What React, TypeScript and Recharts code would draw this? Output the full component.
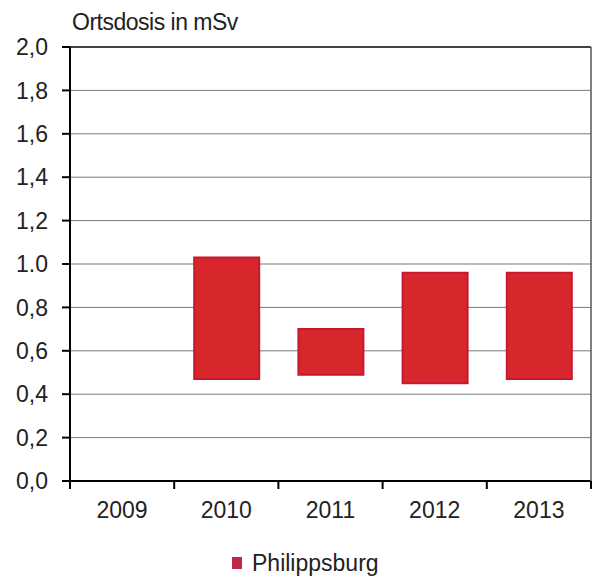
import React from 'react';
import {
  BarChart,
  Bar,
  XAxis,
  YAxis,
  CartesianGrid,
  Legend,
  ReferenceLine,
} from 'recharts';

const years = ['2009', '2010', '2011', '2012', '2013'];
const lowValues: (number | null)[] = [null, 0.47, 0.49, 0.45, 0.47];
const highValues: (number | null)[] = [null, 1.03, 0.7, 0.96, 0.96];
const yTicks = [0, 0.2, 0.4, 0.6, 0.8, 1.0, 1.2, 1.4, 1.6, 1.8, 2.0];
const yTickLabels = ['0,0', '0,2', '0,4', '0,6', '0,8', '1.0', '1,2', '1,4', '1,6', '1,8', '2,0'];

const data = years.map((year, i) => ({
  year,
  range: lowValues[i] == null ? null : [lowValues[i], highValues[i]],
}));

const FONT = '"Liberation Sans", Arial, sans-serif';
const TICK_SIZE = 8;
const TICK_MARGIN = 13;

function YearTick(props: any) {
  const { x, y, payload, index } = props;
  const half = payload?.offset ?? 52;
  const axisY = y - TICK_SIZE - TICK_MARGIN;
  const last = index === years.length - 1;
  return (
    <g>
      <line x1={x - half} y1={axisY} x2={x - half} y2={axisY + TICK_SIZE} stroke="#000" strokeWidth={2} />
      {last && (
        <line x1={x + half} y1={axisY} x2={x + half} y2={axisY + TICK_SIZE} stroke="#000" strokeWidth={2} />
      )}
      <text x={x} y={y} dy="0.71em" textAnchor="middle" fill="#222" fontSize={23} fontFamily={FONT}>
        {payload.value}
      </text>
    </g>
  );
}

function LegendContent() {
  return (
    <div style={{ display: 'flex', alignItems: 'center', marginLeft: 232, fontFamily: FONT, fontSize: 23, color: '#222', height: 26 }}>
      <span style={{ display: 'inline-block', width: 10, height: 12, background: '#c0284a', marginRight: 10 }} />
      <span>Philippsburg</span>
    </div>
  );
}

export default function App() {
  return (
    <div style={{ position: 'absolute', left: 0, top: 0, width: 602, height: 576, background: '#fff' }}>
      <div
        style={{
          position: 'absolute',
          left: 72,
          top: 8,
          fontFamily: FONT,
          fontSize: 23,
          color: '#222',
          letterSpacing: -0.5,
          lineHeight: '28px',
        }}
      >
        Ortsdosis in mSv
      </div>
      <BarChart
        width={602}
        height={576}
        data={data}
        margin={{ top: 47, right: 10, left: 0, bottom: 0 }}
        barSize={65}
      >
        <CartesianGrid vertical={false} stroke="#7a7a7a" strokeWidth={1} />
        <XAxis
          dataKey="year"
          height={69}
          axisLine={{ stroke: '#000', strokeWidth: 2 }}
          tickLine={false}
          tickSize={TICK_SIZE}
          tickMargin={TICK_MARGIN}
          tick={<YearTick />}
          interval={0}
        />
        <YAxis
          domain={[0, 2]}
          ticks={yTicks}
          width={70}
          tickFormatter={(v: number) => yTickLabels[yTicks.findIndex((t) => Math.abs(t - v) < 1e-6)]}
          axisLine={{ stroke: '#000', strokeWidth: 2 }}
          tickLine={{ stroke: '#000', strokeWidth: 2 }}
          tickSize={TICK_SIZE}
          tickMargin={14}
          tick={{ fill: '#222', fontSize: 23, fontFamily: FONT }}
          interval={0}
        />
        <YAxis
          yAxisId="right"
          orientation="right"
          domain={[0, 2]}
          width={1}
          tick={false}
          tickLine={false}
          axisLine={{ stroke: '#555', strokeWidth: 1.5 }}
        />
        <ReferenceLine y={2} stroke="#444" strokeWidth={2} />
        <Legend verticalAlign="bottom" align="left" content={<LegendContent />} wrapperStyle={{ left: 0, width: 602 }} />
        <Bar
          dataKey="range"
          name="Philippsburg"
          fill="#d8262d"
          stroke="#c41a30"
          strokeWidth={2}
          isAnimationActive={false}
        />
      </BarChart>
    </div>
  );
}
